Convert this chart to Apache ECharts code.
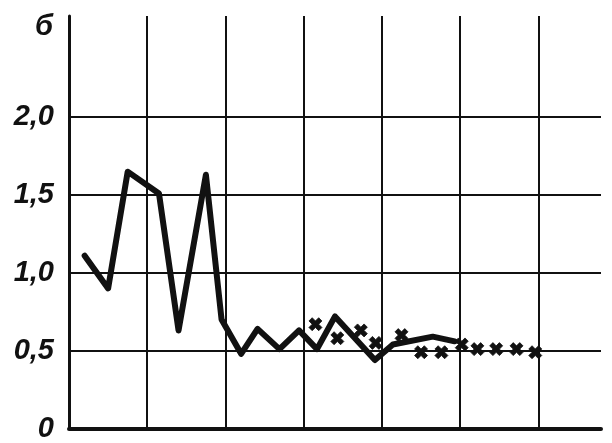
<!DOCTYPE html>
<html><head><meta charset="utf-8">
<script src="https://cdn.jsdelivr.net/npm/echarts@6/dist/echarts.min.js"></script>
<style>html,body{margin:0;padding:0;background:#fff}#c{width:612px;height:443px}</style>
</head><body><div id="c"></div>
<script>
const lineX = [0.20, 0.50, 0.75, 1.15, 1.40, 1.75, 1.95, 2.20, 2.41, 2.69, 2.94, 3.17, 3.40, 3.91, 4.14, 4.65, 4.93];
const lineY = [1.11, 0.90, 1.65, 1.51, 0.63, 1.63, 0.70, 0.48, 0.64, 0.51, 0.63, 0.51, 0.72, 0.44, 0.54, 0.59, 0.56];
const crossX = [3.15, 3.43, 3.73, 3.92, 4.25, 4.50, 4.76, 5.02, 5.22, 5.46, 5.72, 5.96];
const crossY = [0.67, 0.58, 0.63, 0.55, 0.60, 0.49, 0.49, 0.54, 0.51, 0.51, 0.51, 0.49];
const yTickValues = [0, 0.5, 1.0, 1.5, 2.0];
const yTickLabels = ['0', '0,5', '1,0', '1,5', '2,0'];
const xGridValues = [1, 2, 3, 4, 5, 6];
const yAxisTitle = 'б';

const ink = '#111';
const font = 'Liberation Sans';
const chart = echarts.init(document.getElementById('c'), null, {renderer: 'canvas'});
const gridLines = [];
yTickValues.filter(v => v > 0).forEach(v => gridLines.push({yAxis: v}));
xGridValues.forEach(v => gridLines.push({xAxis: v}));

chart.setOption({
  animation: false,
  backgroundColor: '#fff',
  grid: {left: 69, right: 11, top: 16, bottom: 11, containLabel: false},
  graphic: [{
    type: 'text', left: 35, top: 12,
    style: {text: yAxisTitle, font: 'italic bold 29px "' + font + '"', fill: ink}
  }],
  xAxis: {
    type: 'value', min: 0, max: 6.8, interval: 1,
    axisLine: {show: true, onZero: false, lineStyle: {color: ink, width: 4}},
    axisTick: {show: false}, axisLabel: {show: false}, splitLine: {show: false}
  },
  yAxis: {
    type: 'value', min: 0, max: 2.65, interval: 0.5,
    axisLine: {show: true, lineStyle: {color: ink, width: 3}},
    axisTick: {show: false}, splitLine: {show: false},
    axisLabel: {
      margin: 15, color: ink, fontFamily: font, fontSize: 29,
      fontStyle: 'italic', fontWeight: 'bold', padding: [0, 0, 12, 0],
      formatter: function (v) {
        const i = yTickValues.findIndex(t => Math.abs(t - v) < 1e-6);
        return i >= 0 ? yTickLabels[i] : '';
      }
    }
  },
  series: [
    {
      type: 'line', data: lineX.map((x, i) => [x, lineY[i]]),
      symbol: 'none', lineStyle: {color: ink, width: 6, join: 'round', cap: 'round'}, z: 3,
      markLine: {
        silent: true, symbol: 'none', label: {show: false},
        lineStyle: {color: ink, width: 2, type: 'solid'},
        data: gridLines, z: 1
      }
    },
    {
      type: 'scatter', data: crossX.map((x, i) => [x, crossY[i]]),
      symbol: 'path://M0,2.5 L2.5,0 L5,2.5 L7.5,0 L10,2.5 L7.5,5 L10,7.5 L7.5,10 L5,7.5 L2.5,10 L0,7.5 L2.5,5 Z',
      symbolSize: 13, itemStyle: {color: ink, borderColor: ink, borderWidth: 0.8, opacity: 1}, z: 4
    }
  ]
});
</script></body></html>
